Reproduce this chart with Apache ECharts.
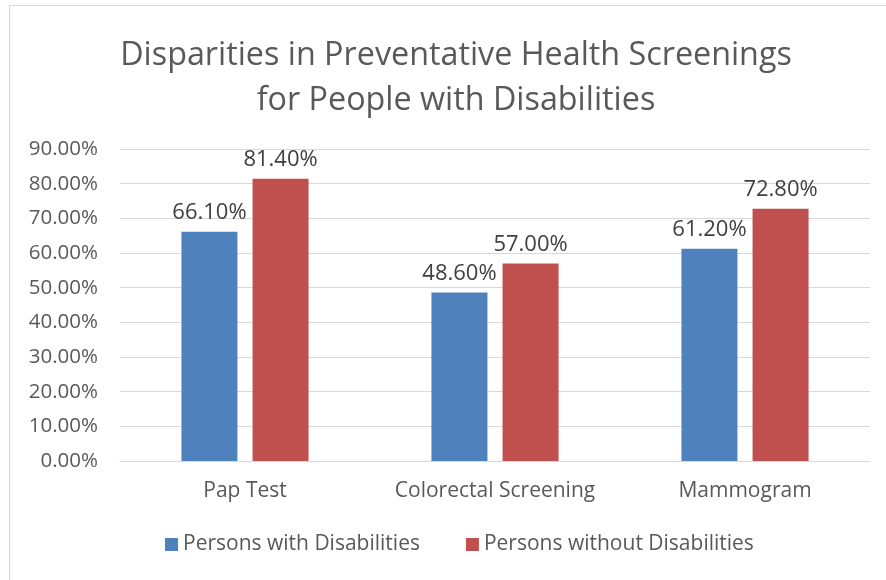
<!DOCTYPE html>
<html>
<head>
<meta charset="utf-8">
<script src="https://cdn.jsdelivr.net/npm/echarts@6/dist/echarts.min.js"></script>
<style>
  html, body { margin: 0; padding: 0; background: #fff; overflow: hidden; }
  #frame { position: absolute; left: 9px; top: 5px; width: 900px; height: 600px; border: 1px solid #d9d9d9; }
  #main { position: absolute; left: 0; top: 0; width: 886px; height: 580px; }
</style>
</head>
<body>
<div id="frame"></div>
<div id="main"></div>
<script>
  const categories = ['Pap Test', 'Colorectal Screening', 'Mammogram']
  const withDisabilities = [66.1, 48.6, 61.2]
  const withoutDisabilities = [81.4, 57.0, 72.8]
  const seriesNames = ['Persons with Disabilities', 'Persons without Disabilities']

  const font = '"Open Sans", sans-serif'
  const textColor = '#595959'

  const chart = echarts.init(document.getElementById('main'))

  const labelStyle = {
    show: true,
    position: 'top',
    distance: 8,
    color: '#404040',
    fontFamily: font,
    fontSize: 22,
    formatter: p => p.value.toFixed(2) + '%'
  }

  chart.setOption({
    animation: false,
    title: {
      text: 'Disparities in Preventative Health Screenings\nfor People with Disabilities',
      left: 451,
      textAlign: 'center',
      top: 28,
      textStyle: {
        fontFamily: font,
        fontSize: 32.3,
        fontWeight: 'normal',
        color: textColor,
        lineHeight: 45
      }
    },
    legend: {
      bottom: 20,
      left: 160,
      itemWidth: 13,
      itemHeight: 13,
      itemGap: 46,
      icon: 'rect',
      textStyle: { fontFamily: font, fontSize: 21, color: textColor },
      data: seriesNames
    },
    grid: {
      left: 120,
      right: 16,
      top: 149,
      bottom: 119
    },
    xAxis: {
      type: 'category',
      data: categories,
      axisLine: { lineStyle: { color: '#d9d9d9', width: 1 } },
      axisTick: { show: false },
      axisLabel: { interval: 0, fontFamily: font, fontSize: 21, color: textColor, margin: 20 }
    },
    yAxis: {
      type: 'value',
      min: 0,
      max: 90,
      interval: 10,
      axisLine: { show: false },
      axisTick: { show: false },
      splitLine: { lineStyle: { color: '#d9d9d9', width: 1 } },
      axisLabel: {
        fontFamily: font,
        fontSize: 20.5,
        color: textColor,
        margin: 22,
        formatter: v => v.toFixed(2) + '%'
      }
    },
    series: [
      {
        name: seriesNames[0],
        type: 'bar',
        data: withDisabilities,
        barWidth: 56,
        barGap: '27%',
        itemStyle: { color: '#4f81bd' },
        label: labelStyle
      },
      {
        name: seriesNames[1],
        type: 'bar',
        data: withoutDisabilities,
        barWidth: 56,
        barGap: '27%',
        itemStyle: { color: '#c0504d' },
        label: labelStyle
      }
    ]
  })
</script>
</body>
</html>
